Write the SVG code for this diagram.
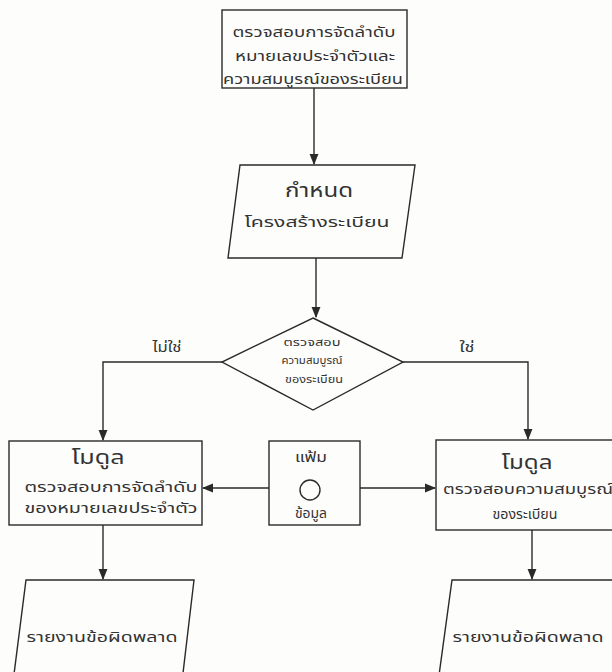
<svg xmlns="http://www.w3.org/2000/svg" width="612" height="672" viewBox="0 0 612 672">
<style>
.s{fill:none;stroke:#2a2a2a;stroke-width:1.4}
.b{fill:#fdfdfb;stroke:#2a2a2a;stroke-width:1.4}
.t{font-family:"Noto Sans Thai","Noto Sans","DejaVu Sans",sans-serif;fill:#333;text-anchor:middle;font-size:14px}
.l{font-size:19px}
.d{font-size:10.5px}
</style>
<defs>
<marker id="a" viewBox="0 0 10 10" refX="9" refY="5" markerWidth="8" markerHeight="8" orient="auto">
<path d="M0,1 L10,5 L0,9 z" fill="#2a2a2a"/>
</marker>
</defs>
<rect width="612" height="672" fill="#fdfdfb"/>
<g id="connectors">
<path class="s" d="M314,88 V164" marker-end="url(#a)"/>
<path class="s" d="M316,258 V317" marker-end="url(#a)"/>
<path class="s" d="M222,362 H103 V440" marker-end="url(#a)"/>
<path class="s" d="M403,362 H528 V439" marker-end="url(#a)"/>
<path class="s" d="M269,488 H203" marker-end="url(#a)"/>
<path class="s" d="M360,488 H435" marker-end="url(#a)"/>
<path class="s" d="M103,525 V579" marker-end="url(#a)"/>
<path class="s" d="M532,530 V579" marker-end="url(#a)"/>
</g>
<g id="n1">
<rect class="b" x="222" y="10" width="185" height="78"/>
<text class="t" x="314" y="37" textLength="163" lengthAdjust="spacingAndGlyphs">ตรวจสอบการจัดลำดับ</text>
<text class="t" x="315" y="61" textLength="160" lengthAdjust="spacingAndGlyphs">หมายเลขประจำตัวและ</text>
<text class="t" x="313" y="84" textLength="180" lengthAdjust="spacingAndGlyphs">ความสมบูรณ์ของระเบียน</text>
</g>
<g id="n2">
<polygon class="b" points="240,165 415,165 402,258 228,258"/>
<text class="t l" x="319" y="197" textLength="68" lengthAdjust="spacingAndGlyphs">กำหนด</text>
<text class="t" x="317" y="227" textLength="145" lengthAdjust="spacingAndGlyphs">โครงสร้างระเบียน</text>
</g>
<g id="n3">
<polygon class="b" points="313,318 403,362 313,410 222,362"/>
<text class="t d" x="312" y="346" textLength="57" lengthAdjust="spacingAndGlyphs">ตรวจสอบ</text>
<text class="t d" x="312" y="364" textLength="61" lengthAdjust="spacingAndGlyphs">ความสมบูรณ์</text>
<text class="t d" x="314" y="383" textLength="58" lengthAdjust="spacingAndGlyphs">ของระเบียน</text>
</g>
<text class="t" x="167" y="352" textLength="29" lengthAdjust="spacingAndGlyphs">ไม่ใช่</text>
<text class="t" x="467" y="352" textLength="15" lengthAdjust="spacingAndGlyphs">ใช่</text>
<g id="n4">
<rect class="b" x="9" y="441" width="193" height="84"/>
<text class="t l" x="98" y="464" textLength="53" lengthAdjust="spacingAndGlyphs">โมดูล</text>
<text class="t" x="111" y="492" textLength="173" lengthAdjust="spacingAndGlyphs">ตรวจสอบการจัดลำดับ</text>
<text class="t" x="111" y="513" textLength="173" lengthAdjust="spacingAndGlyphs">ของหมายเลขประจำตัว</text>
</g>
<g id="n5">
<rect class="b" x="269" y="441" width="91" height="84"/>
<text class="t" x="311" y="462" textLength="32" lengthAdjust="spacingAndGlyphs">แฟ้ม</text>
<circle class="s" cx="310" cy="490" r="10"/>
<text class="t" x="311" y="518" textLength="32" lengthAdjust="spacingAndGlyphs">ข้อมูล</text>
</g>
<g id="n6">
<rect class="b" x="436" y="440" width="190" height="90"/>
<text class="t l" x="527" y="469" textLength="51" lengthAdjust="spacingAndGlyphs">โมดูล</text>
<text class="t" x="528" y="494" textLength="170" lengthAdjust="spacingAndGlyphs">ตรวจสอบความสมบูรณ์</text>
<text class="t" x="525" y="519" textLength="65" lengthAdjust="spacingAndGlyphs">ของระเบียน</text>
</g>
<g id="n7">
<polygon class="b" points="26,580 194,580 181,690 12,690"/>
<text class="t" x="102" y="642" textLength="151" lengthAdjust="spacingAndGlyphs">รายงานข้อผิดพลาด</text>
</g>
<g id="n8">
<polygon class="b" points="452,580 630,580 617,690 437,690"/>
<text class="t" x="528" y="642" textLength="151" lengthAdjust="spacingAndGlyphs">รายงานข้อผิดพลาด</text>
</g>
</svg>
